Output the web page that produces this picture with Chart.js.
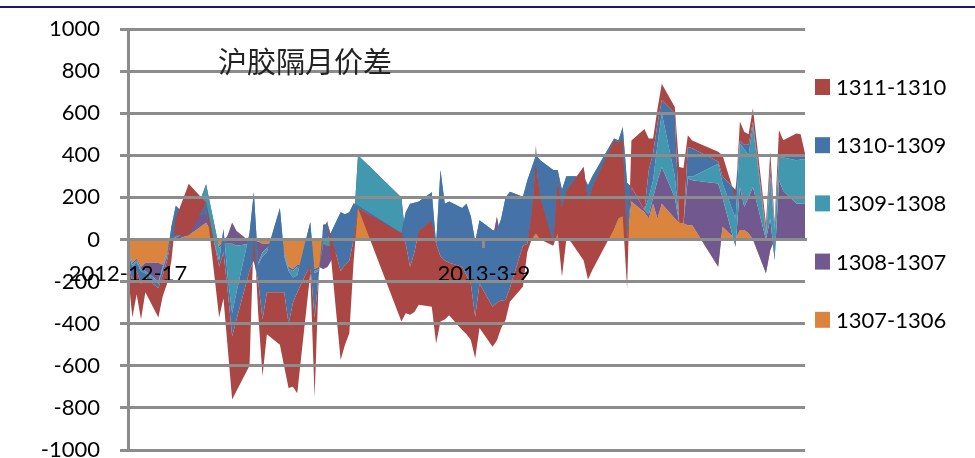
<!DOCTYPE html>
<html>
<head>
<meta charset="utf-8">
<script src="https://cdn.jsdelivr.net/npm/chart.js@4.4.0/dist/chart.umd.min.js"></script>
<style>
    html, body { margin: 0; padding: 0; background: #fff; }
    #wrap { width: 975px; height: 458px; overflow: hidden; }
</style>
</head>
<body>
<div id="wrap"><canvas id="chart" width="975" height="458"></canvas></div>
<script>
"use strict";

const TITLE = "沪胶隔月价差";

// trading days, one point each
const dates = [
    "2012-12-17", "2012-12-18", "2012-12-19", "2012-12-20", "2012-12-21", "2012-12-24", "2012-12-25", "2012-12-26", "2012-12-27", "2012-12-28", "2012-12-31",
    "2013-1-4", "2013-1-7", "2013-1-8", "2013-1-9", "2013-1-10", "2013-1-11", "2013-1-14", "2013-1-15", "2013-1-16", "2013-1-17", "2013-1-18",
    "2013-1-21", "2013-1-22", "2013-1-23", "2013-1-24", "2013-1-25", "2013-1-28", "2013-1-29", "2013-1-30", "2013-1-31",
    "2013-2-1", "2013-2-4", "2013-2-5", "2013-2-6", "2013-2-7", "2013-2-8", "2013-2-18", "2013-2-19", "2013-2-20", "2013-2-21", "2013-2-22",
    "2013-2-25", "2013-2-26", "2013-2-27", "2013-2-28",
    "2013-3-1", "2013-3-4", "2013-3-5", "2013-3-6", "2013-3-7", "2013-3-8", "2013-3-11", "2013-3-12", "2013-3-13", "2013-3-14", "2013-3-15",
    "2013-3-18", "2013-3-19", "2013-3-20", "2013-3-21", "2013-3-22", "2013-3-25", "2013-3-26", "2013-3-27", "2013-3-28", "2013-3-29",
    "2013-4-1", "2013-4-2", "2013-4-3", "2013-4-8", "2013-4-9", "2013-4-10", "2013-4-11", "2013-4-12", "2013-4-15", "2013-4-16", "2013-4-17",
    "2013-4-18", "2013-4-19", "2013-4-22", "2013-4-23", "2013-4-24", "2013-4-25", "2013-4-26",
    "2013-5-2", "2013-5-3", "2013-5-6", "2013-5-7", "2013-5-8", "2013-5-9", "2013-5-10", "2013-5-13", "2013-5-14", "2013-5-15", "2013-5-16",
    "2013-5-17", "2013-5-20", "2013-5-21", "2013-5-22"
];

const tickLabels = ["2012-12-17", "2013-3-9"];

const Y_MIN = -1000, Y_MAX = 1000, Y_STEP = 200;

// spreads, one row per month (Dec, Jan, Feb, Mar, Apr, May)
const s1307_1306 = [
    -40, -110, -90, -130, -110, -110, -120, -60, -10, 0, 20,
    80, -30, -10, 20, 80, 40, -10, -10, -10, -20, -20, -10, -60, -130, -140, -120, -130, -140, -130, -140,
    -130, -20, -10, 0, 50, 155, 10, 0, 0, 0, 0, 0, 0, 0, 0,
    0, 0, 0, 0, 0, 0, 0, 108, 0, 0, 0, 0, 0, 0, 30, 0, 0, 30, 0, 0, 0,
    0, 0, 0, 50, 100, 110, 0, 180, 130, 100, 170, 100, 170, 100, 80, 76, 68, 68,
    -130, 60, 0, 45, 45, 30, 0, -160, -50, 0, 0, 0, 0, 0, 0
];
const s1308_1307 = [
    -10, -10, -10, -10, -40, -90, -10, -10, 0, 10, 20,
    183, -10, -10, -40, -100, -70, -10, -10, -100, -40, -20, -10, -10, -10, -10, -10, -10, -10, -10, 120,
    100, -20, -10, -10, 10, 245, 190, 0, 0, 0, 0, 0, 0, 0, 0,
    0, 0, 0, 0, 0, 0, 0, -108, 0, 0, 0, 0, 0, 0, 417, 0, 0, 0, 0, 0, 0,
    0, 0, 0, 0, 0, 0, 0, 70, 10, 20, 30, 180, 175, 100, 0, 0, 222, 214,
    396, 140, -35, 205, 110, 170, 250, 160, 150, -98, 282, 230, 171, 171, 171
];
const s1309_1308 = [
    -10, -10, -10, -10, -10, -10, -10, -10, 70, 150, 60,
    -138, -60, 70, -160, -330, -220, 50, 246, -10, -20, -20, 170, -10, -10, -30, -40, 223, -10, -10, 20,
    30, 170, 140, 140, 112, -240, -170, 130, 170, 175, 180, 225, -20, 330, 170,
    180, 150, 170, 110, -10, 92, 45, 40, 100, 200, 227, 203, 280, 340, -47, 377, 330, 300, 236, 300, 300,
    300, 258, 300, 430, 370, 425, 270, 0, 0, 80, 82, 170, 255, 100, 0, 0, 10, 16,
    94, 66, 135, 206, 275, 200, 290, 20, 200, 148, 111, 160, 206, 209, 209
];
const s1310_1309 = [
    -40, -70, -40, -60, -20, -20, -30, -20, -60, -140, -80,
    50, -30, -110, -70, -110, -130, -180, -326, -80, -300, -190, -400, -170, -250, -120, -80, -203, -210, -10, 70,
    75, -280, -240, -230, -172, -10, 0, -150, -300, -235, -140, -135, 0, -410, -270,
    -290, -280, -340, -320, -357, -301, -365, -340, -390, -487, -457, -233, -300, -216, -40, -177, -340, -45, -86, -70, -40,
    45, -78, -50, -10, -10, -55, -270, 0, 0, 130, 128, 100, 63, 300, 0, 0, 140, 135,
    10, 34, 135, 14, 20, 50, 20, 20, 50, 10, 12, 10, 18, 20, 20
];
const s1311_1310 = [
    -60, -170, -110, -170, -70, -140, -100, -110, -100, 80, 245,
    0, -240, -220, -270, -300, -340, -450, 145, -150, -270, -200, -250, -355, -305, -400, -480, -40, -380, 10, -10,
    10, -423, -380, -345, -100, 0, -420, -330, -227, -285, -350, -410, -474, -310, -280,
    -250, -300, -280, -267, -197, -211, -190, -180, -130, -95, -66, -195, -40, -124, -330, -200, -20, -255, -327, -230, -270,
    -445, -370, -395, -420, -360, -370, -230, 220, 385, 150, 70, 70, 77, 30, 265, 264, 55, 37,
    47, 100, -35, 90, 62, 50, 63, 36, 67, 20, 115, 72, 109, 100, 9
];

const GRID = "#8c8c8c";
const FONT = "Lato, 'Liberation Sans', sans-serif";

const dayNumber = text => {
    const [y, m, d] = text.split("-").map(Number);
    return Date.UTC(y, m - 1, d) / 86400000;
};
const day0 = dayNumber(dates[0]);
const dayOf = text => dayNumber(text) - day0;

const xs = dates.map(dayOf);
const tickValues = tickLabels.map(dayOf);

// areas are stacked as plain running sums (signs mixed), bottom first
const bottomUp = [s1307_1306, s1308_1307, s1309_1308, s1310_1309, s1311_1310];
let running = dates.map(() => 0);
const levels = bottomUp.map(values => (running = running.map((v, i) => v + values[i])));

const points = level => xs.map((x, i) => ({x, y: level[i]}));

// legend order = top of the stack first; index 0 is painted last
const series = [
    ["1311-1310", "#aa4643", levels[4]],
    ["1310-1309", "#4572a7", levels[3]],
    ["1309-1308", "#4198af", levels[2]],
    ["1308-1307", "#71588f", levels[1]],
    ["1307-1306", "#db843d", levels[0]]
];

const decorations = {
    id: "decorations",
    beforeDraw (chart) {
        const ctx = chart.ctx;
        ctx.save();
        ctx.fillStyle = "#17177c";
        ctx.fillRect(0, 6, chart.width, 2);
        ctx.restore();
    },
    afterDraw (chart) {
        const {ctx, chartArea} = chart;

        ctx.save();
        ctx.fillStyle = "#222";
        ctx.font = "29px 'Noto Sans CJK SC', sans-serif";
        ctx.textBaseline = "middle";
        ctx.fillText(TITLE, chartArea.left + 90, chartArea.top + 33);

        ctx.font = "22px " + FONT;
        chart.data.datasets.forEach((ds, i) => {
            const y = chartArea.top + 58 + i * 58.2;

            ctx.fillStyle = ds.backgroundColor;
            ctx.fillRect(chartArea.right + 10, y - 8, 15, 16);
            ctx.fillStyle = "#000";
            ctx.fillText(ds.label, chartArea.right + 31, y + 1);
        });
        ctx.restore();
    }
};

new Chart(document.getElementById("chart"), {
    type: "line",
    data: {
        datasets: series.map(([label, color, level], i) => ({
            label,
            data: points(level),
            backgroundColor: color,
            borderColor: "transparent",
            borderWidth: 0,
            pointRadius: 0,
            fill: i === series.length - 1 ? "origin" : "+1"
        }))
    },
    options: {
        responsive: false,
        animation: false,
        events: [],
        layout: {padding: {left: 0, top: 29, right: 170, bottom: 8}},
        elements: {line: {tension: 0}},
        plugins: {
            legend: {display: false},
            tooltip: {enabled: false}
        },
        scales: {
            x: {
                type: "linear",
                position: {y: 0},
                min: 0,
                max: xs[xs.length - 1],
                afterBuildTicks: scale => {
                    scale.ticks = tickValues.map(value => ({value}));
                },
                grid: {display: true, drawOnChartArea: false, drawTicks: true, tickLength: 7, color: GRID, lineWidth: 3, z: 1},
                border: {display: true, color: GRID, width: 3, z: 1},
                ticks: {
                    z: 1,
                    padding: 14,
                    autoSkip: false,
                    maxRotation: 0,
                    color: "#000",
                    font: {family: FONT, size: 22},
                    callback: value => tickLabels[tickValues.indexOf(value)]
                }
            },
            y: {
                min: Y_MIN,
                max: Y_MAX,
                ticks: {
                    stepSize: Y_STEP,
                    padding: 20,
                    color: "#000",
                    font: {family: FONT, size: 22},
                    callback: value => String(value)
                },
                grid: {color: GRID, lineWidth: 3, tickLength: 8, z: 1},
                border: {color: GRID, width: 3, z: 1},
                afterFit: scale => {
                    scale.width = 128;
                    scale.paddingTop = 0;
                    scale.paddingBottom = 0;
                }
            }
        }
    },
    plugins: [decorations]
});
</script>
</body>
</html>
